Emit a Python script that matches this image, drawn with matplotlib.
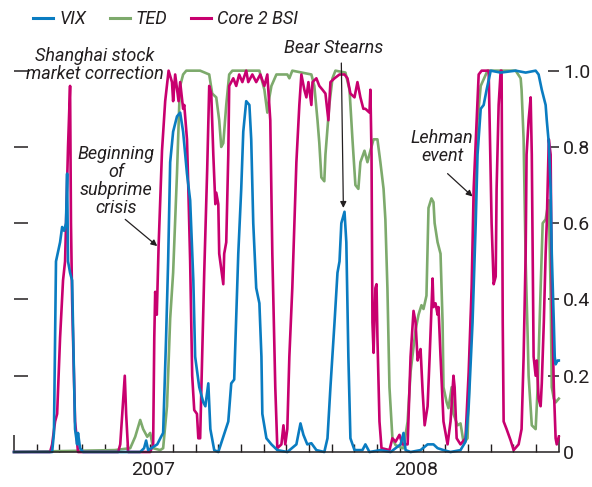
import matplotlib
matplotlib.use("Agg")
import matplotlib.pyplot as plt
from matplotlib.lines import Line2D

plt.rcParams['font.family'] = ['Roboto', 'DejaVu Sans']

# x = months since Jan 2007 (0 .. 24), y = probability of distress (0 .. 1)
vix_x = [0.00, 1.68, 1.76, 1.85, 2.03, 2.12, 2.21, 2.29, 2.34, 2.38, 2.47, 2.56, 2.69, 2.78, 2.82,
         2.91, 3.04, 5.56, 5.73, 5.82, 5.91, 6.31, 6.48, 6.57, 6.70, 6.79, 6.88, 7.01, 7.18, 7.32,
         7.45, 7.62, 7.76, 7.90, 7.98, 8.16, 8.34, 8.43, 8.56, 8.65, 8.82, 9.00, 9.22, 9.44, 9.57,
         9.70, 9.88, 10.01, 10.10, 10.23, 10.37, 10.45, 10.54, 10.67, 10.81, 10.90, 10.94, 11.12,
         11.34, 11.60, 12.04, 12.44, 12.62, 12.75, 12.92, 13.10, 13.32, 13.67, 13.81, 13.94, 14.12,
         14.25, 14.34, 14.42, 14.56, 14.64, 14.73, 14.82, 15.00, 15.35, 15.48, 15.66, 16.14, 16.59,
         16.81, 17.03, 17.16, 17.25, 17.47, 17.91, 18.22, 18.48, 18.66, 18.92, 19.23, 19.67, 19.89,
         20.03, 20.20, 20.34, 20.42, 20.56, 20.69, 20.82, 21.00, 21.44, 22.10, 22.54, 22.98, 23.11,
         23.25, 23.42, 23.47, 23.56, 23.64, 23.69, 23.78, 23.82, 23.86, 23.95, 24.00]
vix_y = [0, 0, 0.05, 0.5, 0.55, 0.59, 0.58, 0.6, 0.73, 0.5, 0.47, 0.45, 0.06, 0.02, 0.05,
         0.01, 0, 0, 0.01, 0.03, 0.005, 0.02, 0.04, 0.05, 0.3, 0.5, 0.76, 0.84, 0.88, 0.89,
         0.84, 0.73, 0.66, 0.45, 0.25, 0.17, 0.13, 0.12, 0.18, 0.06, 0.005, 0, 0.04, 0.08, 0.18,
         0.19, 0.52, 0.69, 0.84, 0.92, 0.91, 0.82, 0.6, 0.43, 0.39, 0.25, 0.1, 0.036,
         0.02, 0.005, 0, 0.02, 0.075, 0.045, 0.02, 0.023, 0.005, 0, 0.036, 0.17, 0.34,
         0.47, 0.5, 0.6, 0.63, 0.55, 0.25, 0.036, 0.005, 0.005, 0.02, 0, 0.005, 0,
         0.01, 0.02, 0.05, 0.005, 0, 0.005, 0.02, 0.02, 0.01, 0.005, 0, 0.005, 0.027,
         0.12, 0.34, 0.6, 0.78, 0.9, 0.91, 0.95, 1.0, 0.995, 1.0, 0.995, 1.0, 0.99,
         0.95, 0.91, 0.87, 0.81, 0.69, 0.52, 0.34, 0.25, 0.23, 0.24, 0.24]

ted_x = [0.00, 4.44, 5.12, 5.34, 5.56, 5.69, 5.87, 6.00, 6.13, 6.44, 6.57, 6.74, 6.88, 7.01, 7.18,
         7.28, 7.32, 7.45, 7.59, 8.20, 8.60, 8.73, 8.91, 9.04, 9.13, 9.22, 9.35, 9.48, 9.62, 10.15,
         10.81, 11.03, 11.16, 11.25, 11.34, 11.56, 12.04, 12.13, 12.26, 13.10, 13.23, 13.37, 13.45,
         13.54, 13.67, 13.72, 13.89, 14.03, 14.16, 14.60, 14.78, 14.91, 15.04, 15.17, 15.26, 15.44,
         15.57, 15.70, 15.84, 16.01, 16.14, 16.28, 16.36, 16.45, 16.54, 16.67, 16.81, 17.11, 17.16,
         17.34, 17.47, 17.69, 17.82, 17.95, 18.04, 18.17, 18.26, 18.39, 18.48, 18.53, 18.66, 18.79,
         18.88, 18.92, 19.06, 19.14, 19.28, 19.36, 19.54, 19.67, 19.81, 19.98, 20.11, 20.25, 20.34,
         20.42, 20.56, 20.86, 22.10, 22.32, 22.36, 22.45, 22.54, 22.63, 22.67, 22.81, 22.98, 23.07,
         23.20, 23.29, 23.42, 23.56, 23.64, 23.69, 23.78, 23.86, 24.00]
ted_y = [0, 0.005, 0.01, 0.04, 0.084, 0.06, 0.04, 0.05, 0.01, 0.005, 0.01, 0.12, 0.35, 0.47, 0.73,
         0.91, 0.96, 0.99, 1.0, 1.0, 0.99, 0.94, 0.93, 0.87, 0.8, 0.81, 0.91, 0.99, 1.0, 1.0,
         1.0, 0.95, 0.89, 0.93, 0.96, 0.99, 0.99, 0.98, 1.0, 0.99, 0.96, 0.87, 0.81,
         0.72, 0.71, 0.78, 0.91, 0.98, 1.0, 0.995, 0.95, 0.82, 0.7, 0.69, 0.76, 0.79,
         0.76, 0.79, 0.82, 0.82, 0.76, 0.69, 0.61, 0.43, 0.17, 0.036, 0.018, 0.01, 0.01,
         0.08, 0.21, 0.32, 0.36, 0.385, 0.375, 0.41, 0.64, 0.665, 0.655, 0.6, 0.55, 0.52,
         0.34, 0.17, 0.13, 0.115, 0.17, 0.1, 0.07, 0.075, 0.023, 0.036, 0.3, 0.54, 0.69,
         0.87, 0.96, 1.0, 1.0, 0.98, 0.95, 0.82, 0.5, 0.3, 0.2, 0.07, 0.06, 0.17,
         0.43, 0.6, 0.61, 0.66, 0.42, 0.17, 0.14, 0.13, 0.14]

bsi_x = [0.00, 1.59, 1.68, 1.81, 1.90, 2.03, 2.16, 2.25, 2.38, 2.47, 2.51, 2.56, 2.69, 2.82, 4.59,
         4.68, 4.88, 4.94, 5.03, 6.00, 6.13, 6.18, 6.22, 6.29, 6.37, 6.52, 6.66, 6.81, 6.96, 7.01,
         7.10, 7.25, 7.32, 7.45, 7.50, 7.62, 7.68, 7.76, 7.85, 7.94, 8.06, 8.12, 8.20, 8.29, 8.38,
         8.51, 8.60, 8.69, 8.78, 8.87, 8.91, 9.00, 9.04, 9.22, 9.26, 9.35, 9.44, 9.48, 9.66, 9.79,
         9.92, 10.06, 10.23, 10.32, 10.50, 10.67, 10.85, 11.03, 11.16, 11.29, 11.38, 11.51, 11.60,
         11.78, 11.87, 11.95, 12.04, 12.13, 12.26, 12.44, 12.57, 12.66, 12.79, 12.88, 12.97, 13.10,
         13.15, 13.32, 13.45, 13.59, 13.72, 13.85, 13.94, 14.12, 14.34, 14.56, 14.69, 14.82, 15.00,
         15.13, 15.26, 15.39, 15.48, 15.66, 15.70, 15.75, 15.79, 15.84, 15.92, 15.97, 16.01, 16.10,
         16.19, 16.54, 16.67, 16.81, 16.98, 17.11, 17.34, 17.47, 17.60, 17.69, 17.78, 17.82, 17.91,
         18.00, 18.09, 18.22, 18.31, 18.44, 18.48, 18.57, 18.66, 18.70, 18.79, 18.92, 19.10, 19.23,
         19.36, 19.41, 19.50, 19.67, 19.89, 20.03, 20.16, 20.25, 20.38, 20.47, 20.60, 20.91, 21.04,
         21.13, 21.22, 21.26, 21.35, 21.44, 21.48, 21.53, 21.57, 21.70, 21.88, 22.01, 22.23, 22.36,
         22.45, 22.54, 22.58, 22.67, 22.76, 22.81, 22.85, 22.89, 22.98, 23.03, 23.11, 23.20, 23.25,
         23.34, 23.42, 23.47, 23.56, 23.64, 23.69, 23.78, 23.86, 23.91, 24.00]
bsi_y = [0, 0, 0.02, 0.08, 0.1, 0.3, 0.45, 0.5, 0.8, 0.96, 0.6, 0.4, 0.08, 0, 0,
         0.02, 0.2, 0.1, 0, 0, 0.02, 0.3, 0.42, 0.36, 0.54, 0.79, 0.92, 1.0, 0.97, 0.92,
         0.99, 0.92, 0.97, 0.9, 0.91, 0.82, 0.69, 0.5, 0.2, 0.11, 0.1, 0.036, 0.036, 0.25, 0.47,
         0.74, 0.96, 0.94, 0.78, 0.65, 0.68, 0.65, 0.52, 0.44, 0.52, 0.55, 0.78, 0.96, 0.98, 0.96,
         0.99, 0.97, 1.0, 0.97, 0.99, 0.97, 0.99, 0.96, 0.99, 0.87, 0.52, 0.17, 0.01,
         0.02, 0.07, 0.02, 0.06, 0.25, 0.43, 0.76, 0.91, 0.99, 0.95, 0.93, 0.97, 0.91,
         0.97, 0.98, 0.96, 0.95, 0.94, 0.87, 0.97, 0.98, 0.99, 0.99, 0.98, 0.94, 0.93,
         0.97, 0.93, 0.9, 0.9, 0.89, 0.95, 0.78, 0.34, 0.26, 0.43, 0.44, 0.3, 0.08,
         0.01, 0.005, 0.036, 0.027, 0.045, 0.02, 0.02, 0.25, 0.37, 0.34, 0.24, 0.25, 0.27,
         0.16, 0.07, 0.12, 0.25, 0.455, 0.38, 0.39, 0.36, 0.38, 0.25, 0.08, 0.02, 0.08,
         0.2, 0.17, 0.036, 0.02, 0.036, 0.21, 0.43, 0.69, 0.87, 0.99, 1.0, 1.0, 0.6,
         0.44, 0.46, 0.69, 0.91, 1.0, 1.0, 0.34, 0.08, 0.06, 0.03, 0.005, 0.02, 0.06,
         0.25, 0.52, 0.78, 0.87, 0.93, 0.78, 0.52, 0.25, 0.2, 0.24, 0.14, 0.12, 0.18,
         0.34, 0.52, 0.6, 0.82, 0.78, 0.43, 0.17, 0.036, 0.02, 0.04]

y_ticks = [0, 0.2, 0.4, 0.6, 0.8, 1.0]
y_labels = ["0", "0.2", "0.4", "0.6", "0.8", "1.0"]
year_labels = ["2007", "2008"]
year_pos = [6.13, 17.73]

c_vix = "#0a7cc1"
c_ted = "#7daa6c"
c_bsi = "#c8006f"
txt = "#231f20"

fig = plt.figure(figsize=(5.92, 4.87), dpi=100)
ax = fig.add_axes([14 / 592, 35 / 487, 544.8 / 592, 400.4 / 487])

lw = 1.9
ax.plot(ted_x, ted_y, color=c_ted, lw=lw, clip_on=False)
ax.plot(bsi_x, bsi_y, color=c_bsi, lw=lw, clip_on=False)
ax.plot(vix_x, vix_y, color=c_vix, lw=lw, clip_on=False)

ax.set_xlim(0, 24)
ax.set_ylim(0, 1.05)
for s in ["top", "left", "right"]:
    ax.spines[s].set_visible(False)
ax.spines["bottom"].set_color(txt)
ax.spines["bottom"].set_linewidth(1.1)

# x: monthly ticks pointing up, longer at the ends
ax.set_xticks([0, 24])
ax.set_xticks(list(range(1, 24)), minor=True)
ax.tick_params(axis="x", which="major", direction="in", length=12, width=1.1,
               color=txt, labelbottom=False)
ax.tick_params(axis="x", which="minor", direction="in", length=6, width=1.0, color=txt)
for lab, xp in zip(year_labels, year_pos):
    ax.text(xp, -0.024, lab, ha="center", va="top", fontsize=14, color=txt)

# y: labels on the right, dash marks on both sides
ax.set_yticks(y_ticks)
ax.set_yticklabels(y_labels)
ax.yaxis.tick_right()
ax.tick_params(axis="y", which="major", direction="in", length=8, width=1.1, color=txt,
               left=True, right=True, labelleft=False, labelright=True, labelsize=14,
               labelcolor=txt, pad=3)
for t in ax.yaxis.get_major_ticks():
    t.tick1line.set_markersize(10)
ax.yaxis.get_major_ticks()[0].tick1line.set_visible(False)
ax.yaxis.get_major_ticks()[0].tick2line.set_visible(False)

# legend
handles = [Line2D([], [], color=c_vix, lw=2.2), Line2D([], [], color=c_ted, lw=2.2),
           Line2D([], [], color=c_bsi, lw=2.2)]
fig.legend(handles, ["VIX", "TED", "Core 2 BSI"], ncol=3, loc="center left",
           bbox_to_anchor=(26 / 592, 1 - 19 / 487), frameon=False, handlelength=1.1,
           handletextpad=0.35, columnspacing=1.3, borderaxespad=0,
           prop={"style": "italic", "size": 13}, labelcolor=txt)

# annotations
afont = dict(fontsize=13, style="italic", color=txt, ha="center", va="center", linespacing=1.0)
arrow = dict(arrowstyle="-|>", color=txt, lw=0.9, mutation_scale=9, shrinkA=0, shrinkB=0)
ax.text(3.57, 1.015, "Shanghai stock\nmarket correction", **afont)
ax.annotate("", xy=(6.31, 0.54), xytext=(4.9, 0.61), arrowprops=arrow)
ax.text(4.5, 0.71, "Beginning\nof\nsubprime\ncrisis", **afont)
ax.annotate("", xy=(14.51, 0.64), xytext=(14.42, 1.02), arrowprops=arrow, annotation_clip=False)
ax.text(14.07, 1.06, "Bear Stearns", clip_on=False, **afont)
ax.annotate("", xy=(20.2, 0.67), xytext=(19.1, 0.73), arrowprops=arrow)
ax.text(18.86, 0.80, "Lehman\nevent", **afont)

fig.savefig("out.png", dpi=100)
